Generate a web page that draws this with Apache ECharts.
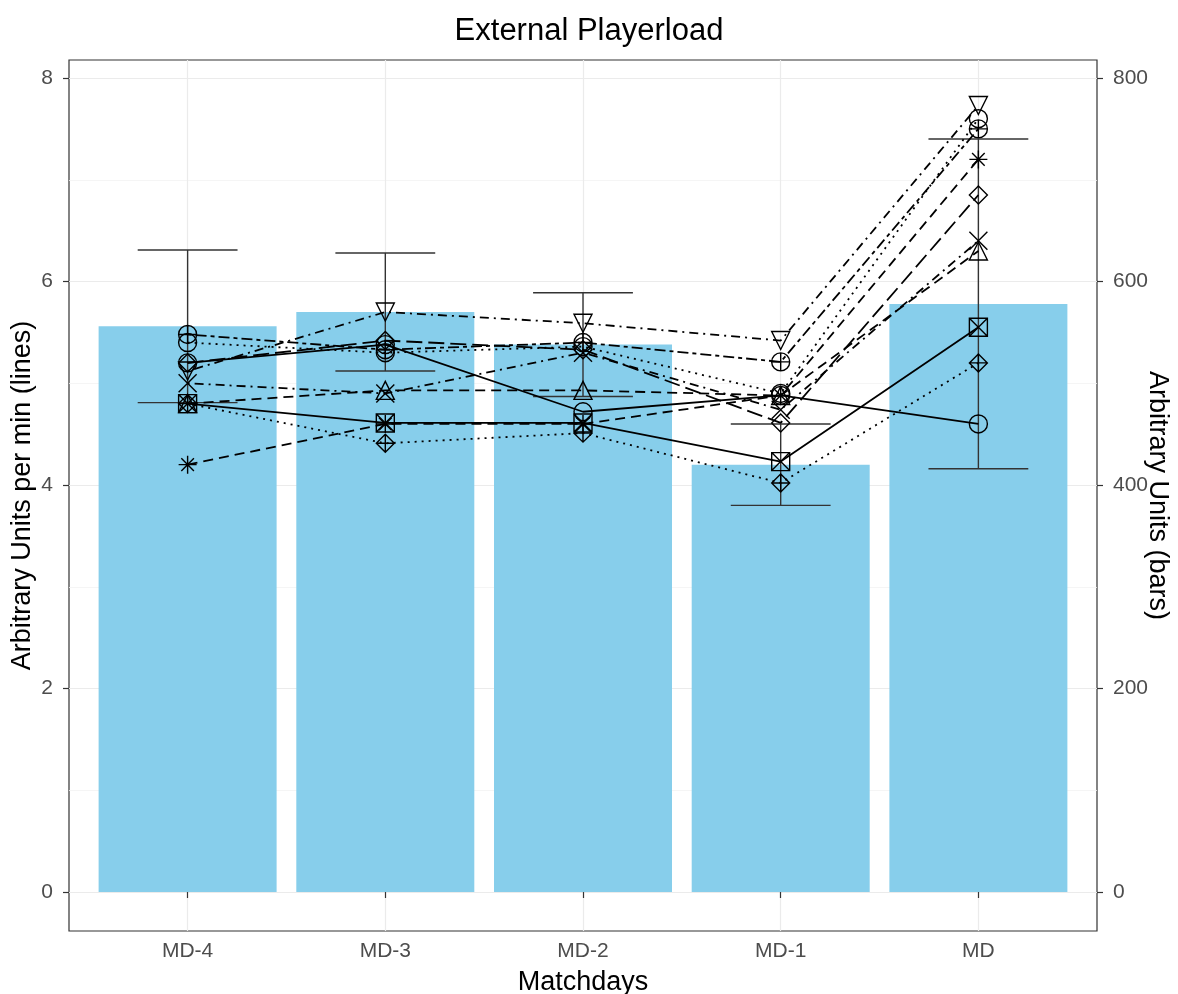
<!DOCTYPE html>
<html>
<head>
<meta charset="utf-8">
<script src="https://cdn.jsdelivr.net/npm/echarts@6/dist/echarts.min.js"></script>
<style>
  html, body { margin: 0; padding: 0; background: #fff; }
  #container { width: 1178px; height: 994px; }
</style>
</head>
<body>
<div id="container"></div>
<script>
// matchdays on the x axis
const categories = ['MD-4', 'MD-3', 'MD-2', 'MD-1', 'MD'];

// team playerload (bars, right axis) and its sd (error bars)
const barValues = [556, 570, 538, 420, 578];
const barSd = [75, 58, 51, 40, 162];

// per player playerload per min (lines, left axis)
const p1 = [5.20, 5.38, 4.72, 4.88, 4.60];
const p2 = [4.80, 4.61, 4.61, 4.23, 5.55];
const p3 = [4.80, 4.41, 4.51, 4.02, 5.20];
const p4 = [5.12, 5.70, 5.59, 5.42, 7.73];
const p5 = [5.48, 5.33, 5.40, 5.21, 7.50];
const p6 = [4.20, 4.60, 4.60, 4.88, 7.20];
const p7 = [5.20, 5.42, 5.33, 4.61, 6.85];
const p8 = [5.00, 4.90, 5.30, 4.74, 6.40];
const p9 = [4.80, 4.93, 4.93, 4.88, 6.30];
const p10 = [5.40, 5.30, 5.36, 4.90, 7.60];
const players = [p1, p2, p3, p4, p5, p6, p7, p8, p9, p10];

// tick labels
const leftTicks = [0, 2, 4, 6, 8];
const leftMinor = [1, 3, 5, 7];
const rightTicks = [0, 200, 400, 600, 800];

// marker shapes (ggplot style open symbols)
const shapes = [
  'path://M0,5A5,5,0,1,1,10,5A5,5,0,1,1,0,5Z',
  'path://M0,0L10,0L10,10L0,10Z M0,0L10,10 M10,0L0,10',
  'path://M5,0L10,5L5,10L0,5Z M5,0L5,10 M0,5L10,5',
  'path://M0,0L10,0L5,8.66Z',
  'path://M0,5A5,5,0,1,1,10,5A5,5,0,1,1,0,5Z M5,0L5,10 M0,5L10,5',
  'path://M5,0L5,10 M0,5L10,5 M1.5,1.5L8.5,8.5 M8.5,1.5L1.5,8.5',
  'path://M5,0L10,5L5,10L0,5Z',
  'path://M0,0L10,10 M10,0L0,10',
  'path://M5,0L10,8.66L0,8.66Z',
  'path://M0,5A5,5,0,1,1,10,5A5,5,0,1,1,0,5Z'
];
const dashes = [
  'solid', 'solid', [2, 5], [2, 5, 9, 5], [4, 4, 11, 4],
  [10, 6], [16, 6], [2, 5, 9, 5], [10, 6], [2, 5]
];

var dom = document.getElementById('container');
var myChart = echarts.init(dom);
var font = 'Liberation Sans, Arial, Helvetica, sans-serif';
var yMin = -0.383, yMax = 8.177;

var series = [];
series.push({
  type: 'bar',
  xAxisIndex: 0,
  yAxisIndex: 1,
  barWidth: 178,
  itemStyle: { color: '#87CEEB' },
  data: barValues.map(function (v, i) { return [i + 1, v]; }),
  z: 1
});
series.push({
  type: 'custom',
  xAxisIndex: 0,
  yAxisIndex: 1,
  encode: { x: 0, y: 1 },
  data: barValues.map(function (v, i) { return [i + 1, v, barSd[i]]; }),
  renderItem: function (params, api) {
    var x = api.value(0), m = api.value(1), s = api.value(2);
    var hi = api.coord([x, m + s]);
    var lo = api.coord([x, m - s]);
    var half = api.size([0.2525, 0])[0];
    var st = { stroke: '#333', lineWidth: 1.4 };
    return {
      type: 'group',
      children: [
        { type: 'line', shape: { x1: hi[0], y1: hi[1], x2: lo[0], y2: lo[1] }, style: st },
        { type: 'line', shape: { x1: hi[0] - half, y1: hi[1], x2: hi[0] + half, y2: hi[1] }, style: st },
        { type: 'line', shape: { x1: lo[0] - half, y1: lo[1], x2: lo[0] + half, y2: lo[1] }, style: st }
      ]
    };
  },
  z: 2
});
players.forEach(function (vals, k) {
  series.push({
    type: 'line',
    xAxisIndex: 0,
    yAxisIndex: 0,
    data: vals.map(function (v, i) { return [i + 1, v]; }),
    symbol: shapes[k],
    symbolSize: 18,
    showSymbol: true,
    lineStyle: { color: '#000', width: 1.8, type: dashes[k] },
    itemStyle: { color: 'rgba(0,0,0,0)', borderColor: '#000', borderWidth: 1.4 },
    emphasis: { disabled: true },
    animation: false,
    z: 3
  });
});

var option = {
  animation: false,
  backgroundColor: '#fff',
  textStyle: { fontFamily: font },
  title: {
    text: 'External Playerload',
    left: 'center',
    top: 11,
    textStyle: { fontFamily: font, fontSize: 31, fontWeight: 'normal', color: '#000' }
  },
  grid: {
    left: 69, right: 81, top: 60, bottom: 63,
    containLabel: false,
    outerBoundsMode: 'none',
    show: true, borderColor: '#333', borderWidth: 1.2, backgroundColor: '#fff'
  },
  xAxis: {
    type: 'value',
    min: 0.4,
    max: 5.6,
    name: 'Matchdays',
    nameLocation: 'middle',
    nameGap: 38,
    nameMoveOverlap: false,
    nameTextStyle: { fontFamily: font, fontSize: 27, color: '#000' },
    axisLine: { show: false },
    axisTick: { show: true, length: 6, customValues: [1, 2, 3, 4, 5], lineStyle: { color: '#333', width: 1.2 } },
    axisLabel: {
      customValues: [1, 2, 3, 4, 5],
      margin: 10,
      fontSize: 21,
      color: '#4d4d4d',
      formatter: function (v) { return categories[Math.round(v) - 1]; }
    },
    splitLine: { show: true, lineStyle: { color: '#ebebeb', width: 1.2 } }
  },
  yAxis: [
    {
      type: 'value',
      min: yMin,
      max: yMax,
      position: 'left',
      name: 'Arbitrary Units per min (lines)',
      nameLocation: 'middle',
      nameGap: 33,
      nameMoveOverlap: false,
      nameTextStyle: { fontFamily: font, fontSize: 27, color: '#000' },
      axisLine: { show: false },
      axisTick: { show: true, length: 6, customValues: leftTicks, lineStyle: { color: '#333', width: 1.2 } },
      axisLabel: { customValues: leftTicks, margin: 16, fontSize: 21, color: '#4d4d4d' },
      splitLine: { show: true, lineStyle: { color: '#ebebeb', width: 1.2 } }
    },
    {
      type: 'value',
      min: yMin * 100,
      max: yMax * 100,
      position: 'right',
      name: 'Arbitrary Units (bars)',
      nameLocation: 'middle',
      nameRotate: -90,
      nameGap: 47,
      nameMoveOverlap: false,
      nameTextStyle: { fontFamily: font, fontSize: 27, color: '#000' },
      axisLine: { show: false },
      axisTick: { show: true, length: 6, customValues: rightTicks, lineStyle: { color: '#333', width: 1.2 } },
      axisLabel: { customValues: rightTicks, margin: 16, fontSize: 21, color: '#4d4d4d' },
      splitLine: { show: false }
    },
    {
      // minor grid lines only
      type: 'value',
      min: yMin,
      max: yMax,
      position: 'left',
      axisLine: { show: false },
      axisTick: { show: false, customValues: leftMinor },
      axisLabel: { show: false },
      splitLine: { show: true, lineStyle: { color: '#f3f3f3', width: 0.8 } }
    }
  ],
  series: series
};

if (option && typeof option === 'object') {
  myChart.setOption(option);
}
</script>
</body>
</html>
